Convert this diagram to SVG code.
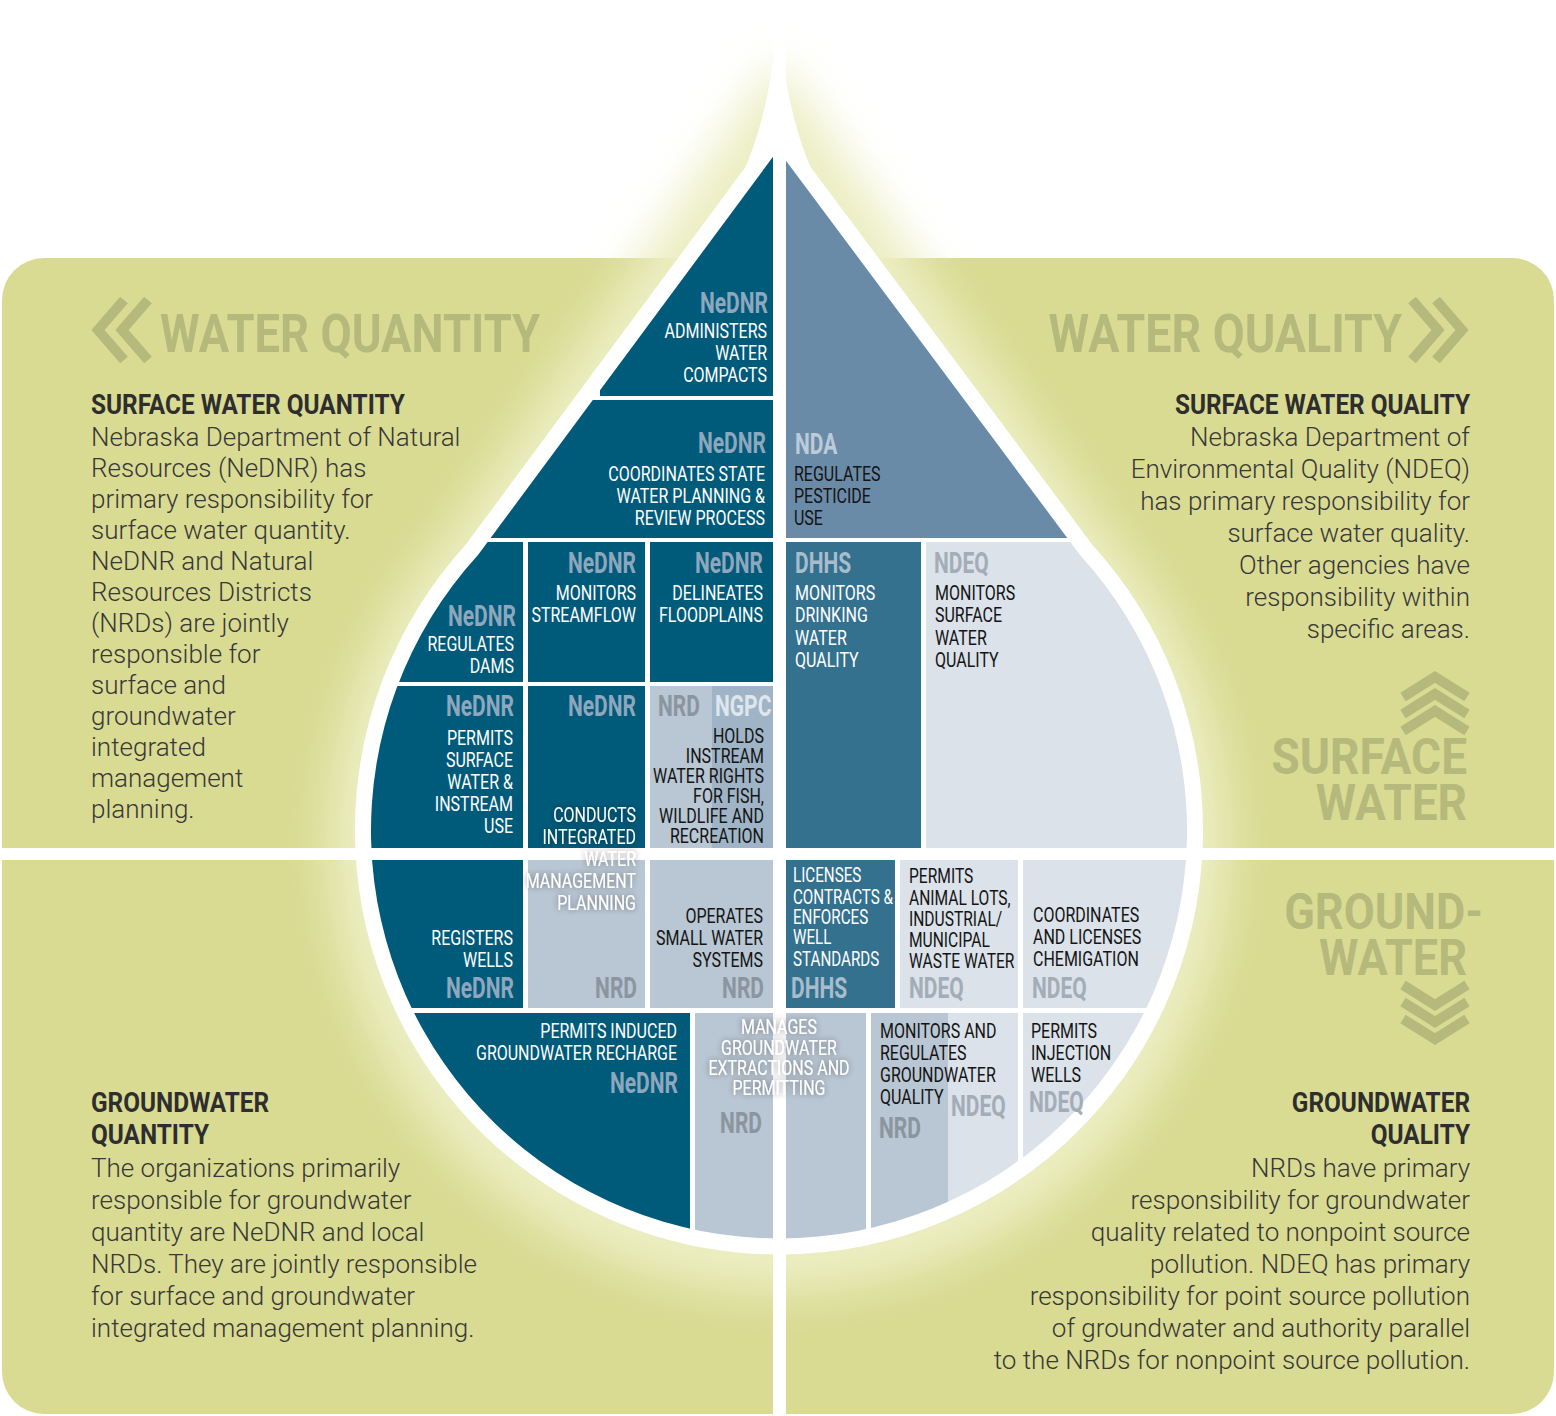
<svg xmlns="http://www.w3.org/2000/svg" width="1556" height="1416" viewBox="0 0 1556 1416">
<defs>
<style>
.bt{font-family:"Roboto","Liberation Sans",sans-serif;font-size:20px}
.w{fill:#ffffff}.k{fill:#141414}
.lb{font-family:"Roboto","Liberation Sans",sans-serif;font-size:30px;font-weight:bold}
.ln{fill:#8fa7bd}.lg{fill:#8a959f}.lq{fill:#a3adb7}.lh{fill:#a9bccc}
.e{text-anchor:end}.m{text-anchor:middle}
.dk{fill:#005a7a}.tl{fill:#33718f}.nda{fill:#6a8ba8}.gr{fill:#b9c6d3}.ng{fill:#a0b4c7}.vl{fill:#dbe2ea}
.big{font-family:"Roboto","Liberation Sans",sans-serif;font-weight:bold;fill:#b5b97c}
.hd{font-family:"Roboto","Liberation Sans",sans-serif;font-size:28px;font-weight:bold;fill:#2e2e2e}
.body{font-family:"Roboto","Liberation Sans",sans-serif;font-weight:300;font-size:26px;fill:#383838}
.chev{fill:none;stroke:#b5b97c;stroke-width:10}
</style>
<clipPath id="inner"><path d="M778,150 L478,555 A408,408 0 1 0 1080,555 Z"/></clipPath>
<filter id="blur" x="-20%" y="-20%" width="140%" height="140%"><feGaussianBlur stdDeviation="22"/></filter>
<filter id="glow" x="-20%" y="-20%" width="140%" height="140%"><feGaussianBlur in="SourceAlpha" stdDeviation="3"/><feComponentTransfer><feFuncA type="linear" slope="0.45"/></feComponentTransfer><feMerge><feMergeNode/><feMergeNode in="SourceGraphic"/></feMerge></filter>
</defs>
<rect width="1556" height="1416" fill="#ffffff"/>
<rect x="2" y="258" width="1552" height="1156" rx="42" fill="#d9db93"/>
<path d="M778,60 L445,540 A450,450 0 1 0 1113,540 Z" fill="#eceec2" filter="url(#blur)"/>
<path d="M778,150 L478,555 A408,408 0 1 0 1080,555 Z" fill="#ffffff" stroke="#ffffff" stroke-width="32" stroke-linejoin="round"/>
<path d="M778,10 Q772,110 742,175 L814,175 Q784,110 778,10 Z" fill="#ffffff"/>

<g id="blocks" clip-path="url(#inner)">
<rect class="dk" x="600" y="140" width="173" height="256"/>
<rect class="dk" x="470" y="400" width="303" height="138"/>
<rect class="dk" x="350" y="542" width="173" height="140"/>
<rect class="dk" x="528" y="542" width="117" height="140"/>
<rect class="dk" x="650" y="542" width="123" height="140"/>
<rect class="dk" x="350" y="686" width="173" height="162"/>
<rect class="dk" x="528" y="686" width="117" height="162"/>
<rect class="gr" x="650" y="686" width="123" height="162"/>
<rect class="ng" x="712" y="686" width="61" height="162"/>
<rect class="nda" x="786" y="140" width="440" height="398"/>
<rect class="tl" x="786" y="542" width="135" height="306"/>
<rect class="vl" x="926" y="542" width="300" height="306"/>
<rect class="dk" x="350" y="860" width="173" height="148"/>
<rect class="gr" x="528" y="860" width="117" height="148"/>
<rect class="gr" x="650" y="860" width="123" height="148"/>
<rect class="tl" x="786" y="860" width="109" height="148"/>
<rect class="vl" x="900" y="860" width="118" height="148"/>
<rect class="vl" x="1023" y="860" width="203" height="148"/>
<rect class="dk" x="350" y="1013" width="340" height="240"/>
<rect class="gr" x="695" y="1013" width="171" height="240"/>
<rect class="gr" x="871" y="1013" width="77" height="240"/>
<rect class="vl" x="948" y="1013" width="70" height="240"/>
<rect class="vl" x="1023" y="1013" width="203" height="240"/>
</g>

<g id="gaps" fill="#ffffff">
<rect x="773" y="0" width="13" height="1416"/>
<rect x="0" y="848" width="1556" height="12"/>
</g>

<g id="headings">
<polyline class="chev" points="124,300 98,330 124,360"/>
<polyline class="chev" points="148,300 122,330 148,360"/>
<text class="big" x="160" y="352" font-size="54" transform="matrix(.84,0,0,1,25.6,0)">WATER QUANTITY</text>
<text class="big e" x="1402" y="352" font-size="54" transform="matrix(.86,0,0,1,196.3,0)">WATER QUALITY</text>
<polyline class="chev" points="1412,300 1438,330 1412,360"/>
<polyline class="chev" points="1436,300 1462,330 1436,360"/>
<polyline class="chev" points="1403,697 1435,677 1467,697"/>
<polyline class="chev" points="1403,714 1435,694 1467,714"/>
<polyline class="chev" points="1403,731 1435,711 1467,731"/>
<text class="big e" x="1467" y="774" font-size="50" transform="matrix(.92,0,0,1,117.4,0)">SURFACE</text>
<text class="big e" x="1467" y="820" font-size="50" transform="matrix(.92,0,0,1,117.4,0)">WATER</text>
<text class="big e" x="1483" y="929" font-size="50" transform="matrix(.9,0,0,1,148.3,0)">GROUND-</text>
<text class="big e" x="1467" y="975" font-size="50" transform="matrix(.9,0,0,1,146.7,0)">WATER</text>
<polyline class="chev" points="1403,985 1435,1005 1467,985"/>
<polyline class="chev" points="1403,1002 1435,1022 1467,1002"/>
<polyline class="chev" points="1403,1019 1435,1039 1467,1019"/>
</g>

<g id="panel-tl">
<text class="hd" x="91" y="414" transform="matrix(.87,0,0,1,11.83,0)">SURFACE WATER QUANTITY</text>
<text class="body" x="91" y="446">Nebraska Department of Natural</text>
<text class="body" x="91" y="477">Resources (NeDNR) has</text>
<text class="body" x="91" y="508">primary responsibility for</text>
<text class="body" x="91" y="539">surface water quantity.</text>
<text class="body" x="91" y="570">NeDNR and Natural</text>
<text class="body" x="91" y="601">Resources Districts</text>
<text class="body" x="91" y="632">(NRDs) are jointly</text>
<text class="body" x="91" y="663">responsible for</text>
<text class="body" x="91" y="694">surface and</text>
<text class="body" x="91" y="725">groundwater</text>
<text class="body" x="91" y="756">integrated</text>
<text class="body" x="91" y="787">management</text>
<text class="body" x="91" y="818">planning.</text>
</g>
<g id="panel-tr">
<text class="hd e" x="1470" y="414" transform="matrix(.87,0,0,1,191.1,0)">SURFACE WATER QUALITY</text>
<text class="body e" x="1470" y="446">Nebraska Department of</text>
<text class="body e" x="1470" y="478">Environmental Quality (NDEQ)</text>
<text class="body e" x="1470" y="510">has primary responsibility for</text>
<text class="body e" x="1470" y="542">surface water quality.</text>
<text class="body e" x="1470" y="574">Other agencies have</text>
<text class="body e" x="1470" y="606">responsibility within</text>
<text class="body e" x="1470" y="638">specific areas.</text>
</g>
<g id="panel-bl">
<text class="hd" x="91" y="1112" transform="matrix(.87,0,0,1,11.83,0)">GROUNDWATER</text>
<text class="hd" x="91" y="1144" transform="matrix(.87,0,0,1,11.83,0)">QUANTITY</text>
<text class="body" x="91" y="1177">The organizations primarily</text>
<text class="body" x="91" y="1209">responsible for groundwater</text>
<text class="body" x="91" y="1241">quantity are NeDNR and local</text>
<text class="body" x="91" y="1273">NRDs. They are jointly responsible</text>
<text class="body" x="91" y="1305">for surface and groundwater</text>
<text class="body" x="91" y="1337">integrated management planning.</text>
</g>
<g id="panel-br">
<text class="hd e" x="1470" y="1112" transform="matrix(.87,0,0,1,191.1,0)">GROUNDWATER</text>
<text class="hd e" x="1470" y="1144" transform="matrix(.87,0,0,1,191.1,0)">QUALITY</text>
<text class="body e" x="1470" y="1177">NRDs have primary</text>
<text class="body e" x="1470" y="1209">responsibility for groundwater</text>
<text class="body e" x="1470" y="1241">quality related to nonpoint source</text>
<text class="body e" x="1470" y="1273">pollution. NDEQ has primary</text>
<text class="body e" x="1470" y="1305">responsibility for point source pollution</text>
<text class="body e" x="1470" y="1337">of groundwater and authority parallel</text>
<text class="body e" x="1470" y="1369">to the NRDs for nonpoint source pollution.</text>
</g>

<g id="n-compacts"><g transform="matrix(.7,0,0,1,230.4,0)"><text class="lb ln e" x="768" y="313">NeDNR</text></g>
<g transform="matrix(.8,0,0,1,153.4,0)"><text class="bt w e" x="767" y="338">ADMINISTERS</text><text class="bt w e" x="767" y="360">WATER</text><text class="bt w e" x="767" y="382">COMPACTS</text></g></g>
<g id="n-planning"><g transform="matrix(.7,0,0,1,229.8,0)"><text class="lb ln e" x="766" y="453">NeDNR</text></g>
<g transform="matrix(.8,0,0,1,153,0)"><text class="bt w e" x="765" y="481">COORDINATES STATE</text><text class="bt w e" x="765" y="503">WATER PLANNING &amp;</text><text class="bt w e" x="765" y="525">REVIEW PROCESS</text></g></g>
<g id="n-dams"><g transform="matrix(.7,0,0,1,154.8,0)"><text class="lb ln e" x="516" y="626">NeDNR</text></g>
<g transform="matrix(.8,0,0,1,102.8,0)"><text class="bt w e" x="514" y="651">REGULATES</text><text class="bt w e" x="514" y="673">DAMS</text></g></g>
<g id="n-streamflow"><g transform="matrix(.7,0,0,1,190.8,0)"><text class="lb ln e" x="636" y="573">NeDNR</text></g>
<g transform="matrix(.8,0,0,1,127.2,0)"><text class="bt w e" x="636" y="600">MONITORS</text><text class="bt w e" x="636" y="622">STREAMFLOW</text></g></g>
<g id="n-flood"><g transform="matrix(.7,0,0,1,228.9,0)"><text class="lb ln e" x="763" y="573">NeDNR</text></g>
<g transform="matrix(.8,0,0,1,152.6,0)"><text class="bt w e" x="763" y="600">DELINEATES</text><text class="bt w e" x="763" y="622">FLOODPLAINS</text></g></g>
<g id="n-permits-sw"><g transform="matrix(.7,0,0,1,154.2,0)"><text class="lb ln e" x="514" y="716">NeDNR</text></g>
<g transform="matrix(.8,0,0,1,102.6,0)"><text class="bt w e" x="513" y="745">PERMITS</text><text class="bt w e" x="513" y="767">SURFACE</text><text class="bt w e" x="513" y="789">WATER &amp;</text><text class="bt w e" x="513" y="811">INSTREAM</text><text class="bt w e" x="513" y="833">USE</text></g></g>
<g id="n-integrated"><g transform="matrix(.7,0,0,1,190.8,0)"><text class="lb ln e" x="636" y="716">NeDNR</text></g>
<g filter="url(#glow)"><g transform="matrix(.8,0,0,1,127.2,0)"><text class="bt w e" x="636" y="822">CONDUCTS</text><text class="bt w e" x="636" y="844">INTEGRATED</text><text class="bt w e" x="636" y="866">WATER</text><text class="bt w e" x="636" y="888">MANAGEMENT</text><text class="bt w e" x="636" y="910">PLANNING</text></g></g>
<g transform="matrix(.7,0,0,1,191.1,0)"><text class="lb lg e" x="637" y="998">NRD</text></g></g>
<g id="n-instream"><g transform="matrix(.7,0,0,1,197.4,0)"><text class="lb lg" x="658" y="716">NRD</text></g><g transform="matrix(.7,0,0,1,214.5,0)"><text class="lb" x="715" y="716" fill="#dfe6ec">NGPC</text></g>
<g transform="matrix(.8,0,0,1,152.8,0)"><text class="bt k e" x="764" y="743">HOLDS</text><text class="bt k e" x="764" y="763">INSTREAM</text><text class="bt k e" x="764" y="783">WATER RIGHTS</text><text class="bt k e" x="764" y="803">FOR FISH,</text><text class="bt k e" x="764" y="823">WILDLIFE AND</text><text class="bt k e" x="764" y="843">RECREATION</text></g></g>
<g id="n-nda"><g transform="matrix(.7,0,0,1,238.5,0)"><text class="lb" x="795" y="454" fill="#bccbd9">NDA</text></g>
<g transform="matrix(.8,0,0,1,158.8,0)"><text class="bt k" x="794" y="481">REGULATES</text><text class="bt k" x="794" y="503">PESTICIDE</text><text class="bt k" x="794" y="525">USE</text></g></g>
<g id="n-dhhs-sw"><g transform="matrix(.7,0,0,1,238.5,0)"><text class="lb lh" x="795" y="573">DHHS</text></g>
<g transform="matrix(.8,0,0,1,159,0)"><text class="bt w" x="795" y="600">MONITORS</text><text class="bt w" x="795" y="622">DRINKING</text><text class="bt w" x="795" y="645">WATER</text><text class="bt w" x="795" y="667">QUALITY</text></g></g>
<g id="n-ndeq-sw"><g transform="matrix(.7,0,0,1,280.2,0)"><text class="lb lq" x="934" y="573">NDEQ</text></g>
<g transform="matrix(.8,0,0,1,187,0)"><text class="bt k" x="935" y="600">MONITORS</text><text class="bt k" x="935" y="622">SURFACE</text><text class="bt k" x="935" y="645">WATER</text><text class="bt k" x="935" y="667">QUALITY</text></g></g>
<g id="n-wells"><g transform="matrix(.8,0,0,1,102.6,0)"><text class="bt w e" x="513" y="945">REGISTERS</text><text class="bt w e" x="513" y="967">WELLS</text></g><g transform="matrix(.7,0,0,1,154.2,0)"><text class="lb ln e" x="514" y="998">NeDNR</text></g></g>
<g id="n-small"><g transform="matrix(.8,0,0,1,152.6,0)"><text class="bt k e" x="763" y="923">OPERATES</text><text class="bt k e" x="763" y="945">SMALL WATER</text><text class="bt k e" x="763" y="967">SYSTEMS</text></g><g transform="matrix(.7,0,0,1,229.2,0)"><text class="lb lg e" x="764" y="998">NRD</text></g></g>
<g id="n-dhhs-gw"><g transform="matrix(.76,0,0,1,190.3,0)"><text class="bt w" x="793" y="882">LICENSES</text><text class="bt w" x="793" y="904">CONTRACTS &amp;</text><text class="bt w" x="793" y="924">ENFORCES</text><text class="bt w" x="793" y="944">WELL</text><text class="bt w" x="793" y="966">STANDARDS</text></g><g transform="matrix(.7,0,0,1,237.3,0)"><text class="lb lh" x="791" y="998">DHHS</text></g></g>
<g id="n-lots"><g transform="matrix(.78,0,0,1,200,0)"><text class="bt k" x="909" y="883">PERMITS</text><text class="bt k" x="909" y="905">ANIMAL LOTS,</text><text class="bt k" x="909" y="926">INDUSTRIAL/</text><text class="bt k" x="909" y="947">MUNICIPAL</text><text class="bt k" x="909" y="968">WASTE WATER</text></g><g transform="matrix(.7,0,0,1,272.7,0)"><text class="lb lq" x="909" y="998">NDEQ</text></g></g>
<g id="n-chem"><g transform="matrix(.8,0,0,1,206.6,0)"><text class="bt k" x="1033" y="922">COORDINATES</text><text class="bt k" x="1033" y="944">AND LICENSES</text><text class="bt k" x="1033" y="966">CHEMIGATION</text></g><g transform="matrix(.7,0,0,1,309.6,0)"><text class="lb lq" x="1032" y="998">NDEQ</text></g></g>
<g id="n-recharge"><g transform="matrix(.8,0,0,1,135.4,0)"><text class="bt w e" x="677" y="1038">PERMITS INDUCED</text><text class="bt w e" x="677" y="1060">GROUNDWATER RECHARGE</text></g><g transform="matrix(.7,0,0,1,203.4,0)"><text class="lb ln e" x="678" y="1093">NeDNR</text></g></g>
<g id="n-extract"><g filter="url(#glow)"><g transform="matrix(.8,0,0,1,155.8,0)"><text class="bt w m" x="779" y="1034">MANAGES</text><text class="bt w m" x="779" y="1055">GROUNDWATER</text><text class="bt w m" x="779" y="1075">EXTRACTIONS AND</text><text class="bt w m" x="779" y="1095">PERMITTING</text></g></g><g transform="matrix(.7,0,0,1,228.6,0)"><text class="lb lg e" x="762" y="1133">NRD</text></g></g>
<g id="n-gwq"><g transform="matrix(.8,0,0,1,176,0)"><text class="bt k" x="880" y="1038">MONITORS AND</text><text class="bt k" x="880" y="1060">REGULATES</text><text class="bt k" x="880" y="1082">GROUNDWATER</text><text class="bt k" x="880" y="1104">QUALITY</text></g><g transform="matrix(.7,0,0,1,285.3,0)"><text class="lb lq" x="951" y="1116">NDEQ</text></g><g transform="matrix(.7,0,0,1,263.7,0)"><text class="lb lg" x="879" y="1138">NRD</text></g></g>
<g id="n-inject"><g transform="matrix(.8,0,0,1,206.2,0)"><text class="bt k" x="1031" y="1038">PERMITS</text><text class="bt k" x="1031" y="1060">INJECTION</text><text class="bt k" x="1031" y="1082">WELLS</text></g><g transform="matrix(.7,0,0,1,308.7,0)"><text class="lb lq" x="1029" y="1112">NDEQ</text></g></g>
<g id="connectors"/>
</svg>
